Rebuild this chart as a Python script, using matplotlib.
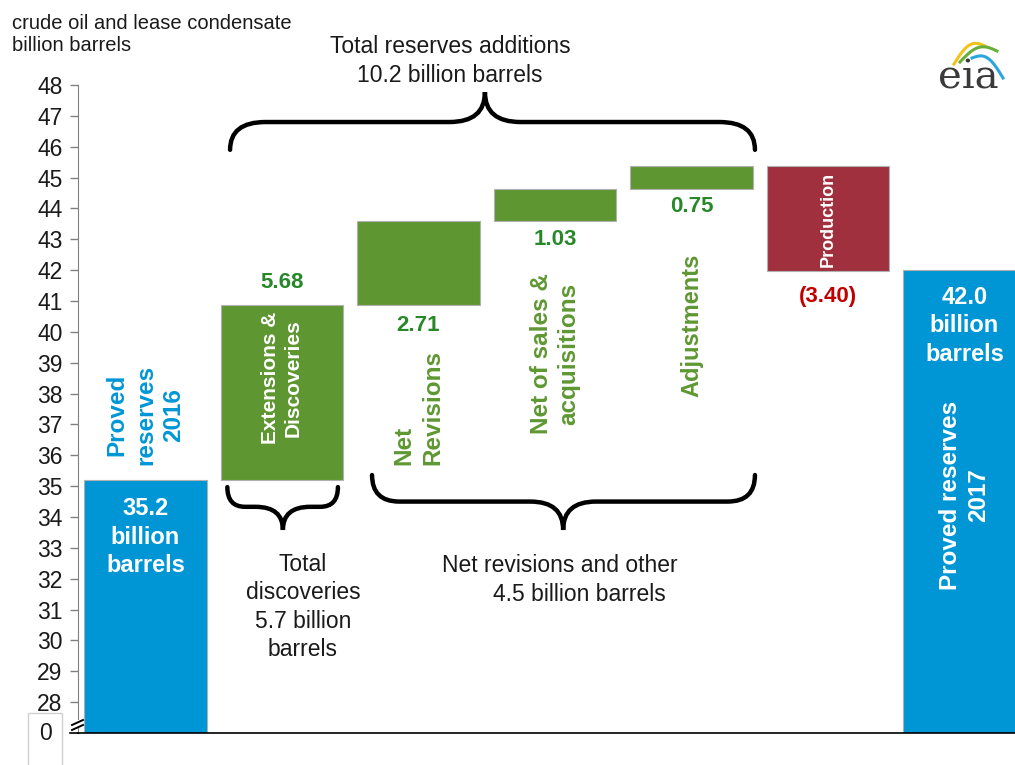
import numpy as np
import matplotlib
matplotlib.use("Agg")
import matplotlib.pyplot as plt
from matplotlib.path import Path
from matplotlib.patches import PathPatch, Rectangle
from matplotlib.lines import Line2D

plt.rcParams["font.family"] = ["Liberation Sans", "DejaVu Sans"]

# -----------------------------
# Data (billion barrels)
# -----------------------------
start_reserves = 35.2
additions = [5.68, 2.71, 1.03, 0.75]
production = -3.40
end_reserves = 42.0

value_labels = ["5.68", "2.71", "1.03", "0.75", "(3.40)"]
y_ticks = list(range(28, 49))

# -----------------------------
# Colours
# -----------------------------
blue = "#0096D6"
green = "#5E9732"
green_val = "#27882A"
red_bar = "#A0303E"
red_val = "#C00000"
txt = "#1A1A1A"

W, H = 1015, 765
fig = plt.figure(figsize=(W / 100, H / 100), dpi=100)
ax = fig.add_axes([78 / W, 1 - 733 / H, 937 / W, (733 - 85) / H])

# waterfall geometry from the data
steps = additions + [production]
cum = np.concatenate([[start_reserves], start_reserves + np.cumsum(steps)])
bottoms = [0.0]
heights = [start_reserves]
colors = [blue]
for i, s in enumerate(steps):
    lo = min(cum[i], cum[i + 1])
    bottoms.append(lo)
    heights.append(abs(s))
    colors.append(green if s > 0 else red_bar)
bottoms.append(0.0)
heights.append(end_reserves)
colors.append(blue)

x = np.arange(len(heights))
ax.bar(x, heights, bottom=bottoms, width=0.9, color=colors,
       edgecolor="#B0B0B0", linewidth=0.8, zorder=2)

ax.set_xlim(-0.494, 6.37)
ax.set_ylim(27, 48)
ax.set_yticks(y_ticks)
ax.set_yticklabels([str(t) for t in y_ticks], fontsize=16.5, color=txt)
ax.set_xticks([])
ax.tick_params(axis="y", direction="out", length=6, width=1, color="#808080", pad=5)
for s in ["top", "right"]:
    ax.spines[s].set_visible(False)
ax.spines["left"].set_color("#808080")
ax.spines["bottom"].set_color("#000000")
ax.spines["bottom"].set_linewidth(1.2)

# -----------------------------
# Labels on / near bars
# -----------------------------
bold = dict(fontweight="bold", ha="center", va="center")
ax.text(0, 37.3, "Proved\nreserves\n2016", rotation=90, color=blue, fontsize=17.5,
        linespacing=1.3, **bold)
ax.text(0, 33.35, "35.2\nbillion\nbarrels", color="white", fontsize=17, linespacing=1.3, **bold)

ax.text(1, 38.5, "Extensions &\nDiscoveries", rotation=90, color="white", fontsize=15,
        linespacing=1.25, **bold)
ax.text(2, 37.55, "Net\nRevisions", rotation=90, color=green, fontsize=17.5,
        multialignment="left", linespacing=1.3, **bold)
ax.text(3, 39.3, "Net of sales &\nacquisitions", rotation=90, color=green, fontsize=17.5,
        linespacing=1.25, **bold)
ax.text(4, 40.2, "Adjustments", rotation=90, color=green, fontsize=17, **bold)
ax.text(5, 43.65, "Production", rotation=90, color="white", fontsize=13, **bold)

val_y = [41.6, 40.2, 43.0, 44.05, 41.15]
for i, (lab, vy) in enumerate(zip(value_labels, val_y)):
    ax.text(i + 1, vy, lab, color=green_val if i < 4 else red_val, fontsize=16, **bold)

ax.text(6, 40.2, "42.0\nbillion\nbarrels", color="white", fontsize=17, linespacing=1.3, **bold)
ax.text(6, 34.7, "Proved reserves\n2017", rotation=90, color="white", fontsize=17.5,
        linespacing=1.25, **bold)


# -----------------------------
# Braces
# -----------------------------
def brace(x0, x1, xt, y_end, y_flat, y_tip, r, r2, lw=3.2):
    verts = [
        (x0, y_end), (x0, y_flat), (x0 + r, y_flat),
        (xt - r2, y_flat), (xt, y_flat), (xt, y_tip),
        (xt, y_flat), (xt + r2, y_flat),
        (x1 - r, y_flat), (x1, y_flat), (x1, y_end),
    ]
    codes = [Path.MOVETO, Path.CURVE3, Path.CURVE3,
             Path.LINETO, Path.CURVE3, Path.CURVE3,
             Path.CURVE3, Path.CURVE3,
             Path.LINETO, Path.CURVE3, Path.CURVE3]
    ax.add_patch(PathPatch(Path(verts, codes), fill=False, lw=lw,
                           edgecolor="black", capstyle="round", clip_on=False, zorder=3))


brace(0.62, 4.465, 2.487, 45.9, 46.8, 47.77, 0.26, 0.26)
brace(0.60, 1.41, 1.007, 34.97, 34.33, 33.58, 0.13, 0.2)
brace(1.66, 4.465, 3.06, 35.36, 34.5, 33.58, 0.2, 0.24)

ax.text(2.23, 48.78, "Total reserves additions\n10.2 billion barrels", fontsize=16.5,
        color=txt, ha="center", va="center", linespacing=1.3, clip_on=False)
ax.text(1.154, 31.08, "Total\ndiscoveries\n5.7 billion\nbarrels", fontsize=16.5,
        color=txt, ha="center", va="center", linespacing=1.3)
ax.text(3.036, 32.44, "Net revisions and other", fontsize=16.5, color=txt, ha="center", va="center")
ax.text(3.18, 31.5, "4.5 billion barrels", fontsize=16.5, color=txt, ha="center", va="center")

# -----------------------------
# Axis title, broken-axis zero, logo
# -----------------------------
fig.text(12 / W, 1 - 14 / H, "crude oil and lease condensate\nbillion barrels", fontsize=14.5,
         color=txt, ha="left", va="top", linespacing=1.2)


def fx(px):
    return px / W


def fy(py):
    return 1 - py / H


fig.patches.append(Rectangle((fx(28), fy(766)), fx(62) - fx(28), fy(713) - fy(766),
                             transform=fig.transFigure, fill=False, edgecolor="#D0D0D0", lw=1))
fig.text(fx(45), fy(734), "0", fontsize=16.5, color=txt, ha="center", va="center")

# break marks on the y axis
fig.patches.append(Rectangle((fx(74), fy(728)), fx(82) - fx(74), fy(720) - fy(728),
                             transform=fig.transFigure, facecolor="white", edgecolor="none", zorder=5))
for dy in (0, 5):
    fig.lines.append(Line2D([fx(72), fx(83)], [fy(725 + dy), fy(720 + dy)],
                            transform=fig.transFigure, color="black", lw=1.4, zorder=6))
fig.lines.append(Line2D([fx(70), fx(78)], [fy(733), fy(733)], transform=fig.transFigure,
                        color="black", lw=1.2))

# eia logo
fig.text(fx(968), fy(78), "eia", fontsize=29, family="DejaVu Serif", color="#3A3A3A",
         ha="center", va="center")
t = np.linspace(0, 1, 30)
for col, (x0, y0, x1, y1, bend) in zip(
        ["#F2C318", "#6AAE3A", "#2AA7DF"],
        [(954, 64, 985, 46, 10), (960, 62, 997, 51, 9), (972, 58, 1003, 78, 10)]):
    xs = x0 + (x1 - x0) * t
    ys = y0 + (y1 - y0) * t - bend * np.sin(np.pi * t)
    fig.lines.append(Line2D(fx(xs), fy(ys), transform=fig.transFigure, color=col, lw=2.2))

fig.savefig("out.png", dpi=100)
